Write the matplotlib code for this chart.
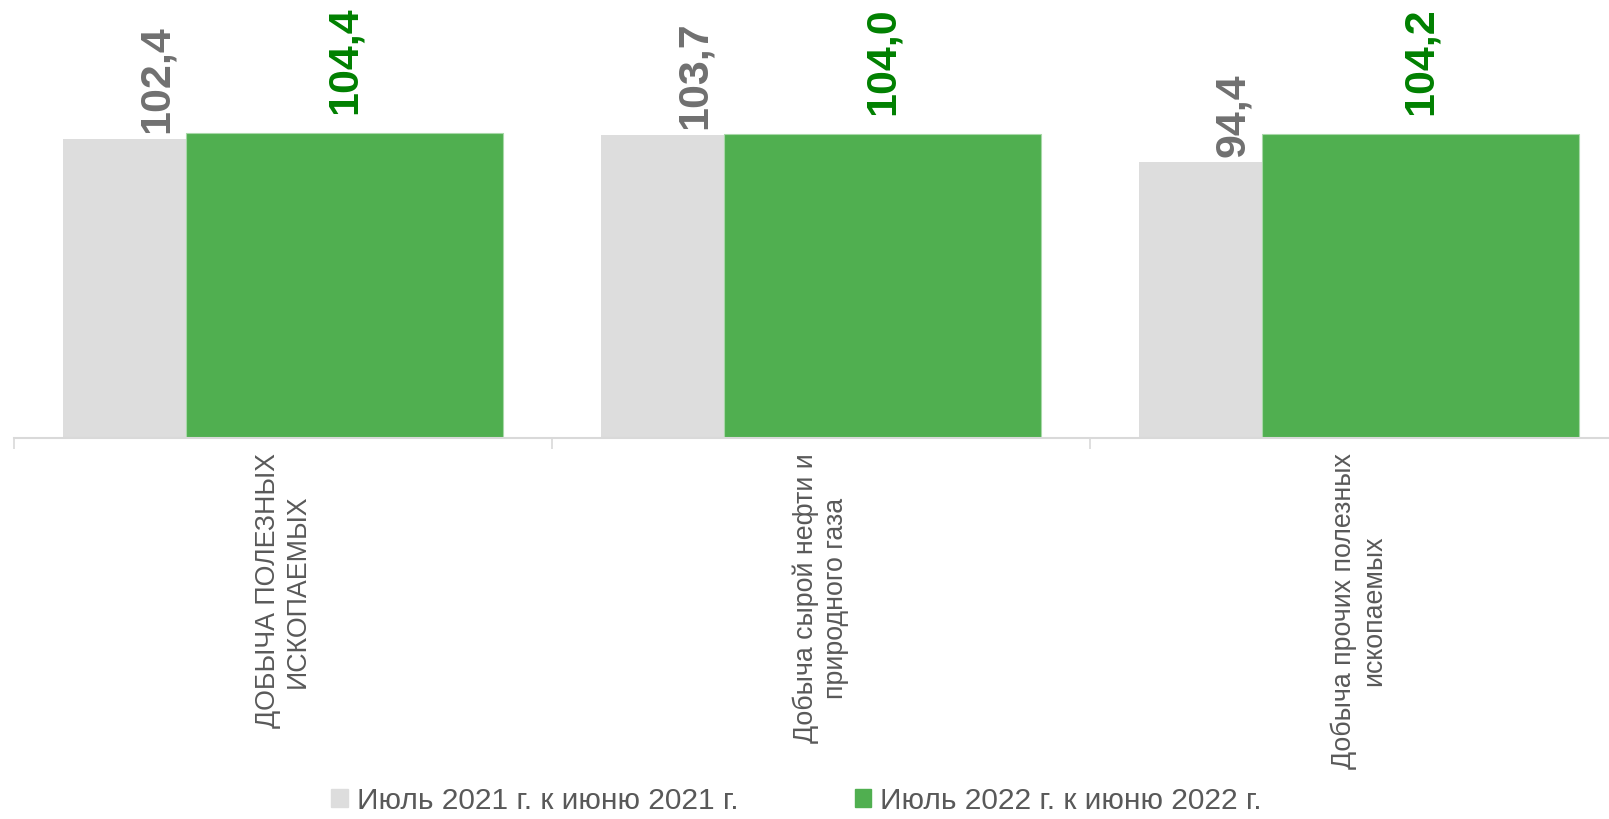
import matplotlib.pyplot as plt
from matplotlib.patches import Patch

plt.rcParams['font.family'] = ['Liberation Sans', 'DejaVu Sans']

categories = ['ДОБЫЧА ПОЛЕЗНЫХ\nИСКОПАЕМЫХ',
              'Добыча сырой нефти и\nприродного газа',
              'Добыча прочих полезных\nископаемых']
values_2021 = [102.4, 103.7, 94.4]
values_2022 = [104.4, 104.0, 104.2]
series_names = ['Июль 2021 г. к июню 2021 г.', 'Июль 2022 г. к июню 2022 г.']

grey = '#DDDDDD'
green = '#50AF50'

fig = plt.figure(figsize=(16.09, 8.19), dpi=100)
# plot area: left edge at 14 px, three categories of ~538 px each, baseline at 438 px
ax = fig.add_axes([14 / 1609, (819 - 438) / 819, 1614 / 1609, 438 / 819])

x0 = list(range(len(categories)))
w_grey = 0.2286
w_green = 0.589
grey_left = [i + 0.091 for i in x0]
green_left = [g + w_grey for g in grey_left]

ax.bar(grey_left, values_2021, width=w_grey, align='edge', color=grey, zorder=2)
ax.bar(green_left, values_2022, width=w_green, align='edge', color=green,
       edgecolor='#A8D8A8', linewidth=0.8, zorder=2)

for gl, v in zip(grey_left, values_2021):
    ax.text(gl + 0.175, v + 2, f'{v:.1f}'.replace('.', ','), rotation=90,
            ha='center', va='bottom', fontsize=31, fontweight='bold', color='#707070')
for gl, v in zip(green_left, values_2022):
    ax.text(gl + w_green / 2, v + 6.5, f'{v:.1f}'.replace('.', ','), rotation=90,
            ha='center', va='bottom', fontsize=31, fontweight='bold', color='#008000')

ax.set_xlim(0, 3)
ax.set_ylim(0, 150)
ax.set_yticks([])
ax.set_xticks([0, 1, 2, 3])
ax.set_xticklabels([])
ax.set_xticks([i + 0.5 for i in x0], minor=True)
ax.set_xticklabels(categories, minor=True, rotation=90, ha='center', va='top',
                   fontsize=19.3, color='#595959', multialignment='center')
ax.tick_params(axis='x', which='major', length=8, color='#D9D9D9', width=1.2)
ax.tick_params(axis='x', which='minor', length=0, pad=11)

for s in ['left', 'top', 'right']:
    ax.spines[s].set_visible(False)
ax.spines['bottom'].set_color('#D9D9D9')
ax.spines['bottom'].set_linewidth(1.5)

handles = [Patch(color=grey), Patch(color=green)]
fig.legend(handles, series_names, loc='center', bbox_to_anchor=(0.495, 0.022),
           ncol=2, frameon=False, fontsize=21.5, labelcolor='#595959',
           handlelength=0.55, handleheight=0.55, handletextpad=0.3, columnspacing=3.9)

fig.savefig('out.png', dpi=100)
